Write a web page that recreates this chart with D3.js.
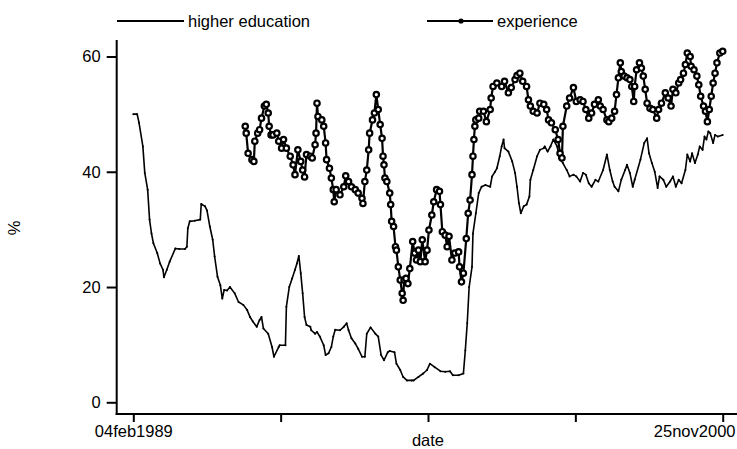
<!DOCTYPE html>
<html>
<head>
<meta charset="utf-8">
<script src="https://cdn.jsdelivr.net/npm/d3@7"></script>
<style>
  body { margin: 0; background: #fff; }
  svg { display: block; }
  text { font-family: "Liberation Sans", Arial, sans-serif; fill: #000; }
</style>
</head>
<body>
<div class="chart"></div>
<script>
'use strict';

// weekly series, week offset from 04feb1989
var startDate = new Date(1989, 1, 4),
  endDate = new Date(2000, 10, 25);

var seriesNames = ['higher education', 'experience'];
var xTickLabels = ['04feb1989', '', '', '', '25nov2000'];
var yTicks = [0, 20, 40, 60];

var heWeek = [0, 4, 6, 10, 12, 15, 17, 19, 21, 25, 28, 31, 32, 35, 38, 44, 48, 54, 56, 57,
  59, 64, 70, 71, 75, 77, 80, 83, 85, 88, 91, 93, 95, 98, 101, 106, 110, 115, 119, 122,
  125, 129, 132, 134, 136, 141, 145, 147, 152, 153, 159, 160, 163, 166, 169, 171, 173, 175, 177, 179,
  181, 185, 186, 190, 192, 195, 199, 201, 204, 207, 209, 211, 216, 220, 223, 225, 228, 232, 235, 239,
  242, 244, 248, 253, 256, 259, 262, 266, 268, 273, 275, 279, 282, 286, 291, 293, 298, 303, 307, 310,
  315, 321, 326, 331, 334, 340, 345, 347, 349, 351, 354, 355, 358, 361, 364, 368, 373, 375, 378, 380,
  383, 385, 387, 388, 392, 396, 399, 401, 403, 405, 408, 411, 414, 415, 418, 422, 425, 429, 430, 433,
  436, 439, 443, 445, 449, 453, 456, 460, 463, 467, 470, 473, 476, 479, 483, 486, 491, 495, 498, 501,
  503, 507, 510, 514, 516, 519, 522, 524, 530, 534, 537, 539, 542, 545, 548, 550, 554, 557, 561, 564,
  567, 570, 573, 577, 579, 582, 584, 587, 590, 592, 595, 597, 599, 601, 603, 606, 608, 611, 616];
var heValue = [50, 50, 48.5, 44.4, 39.8, 36.9, 31.7, 29.3, 27.6, 25.9, 24.1, 23, 21.7, 23, 24.4, 26.7, 26.6, 26.6, 27, 30.2,
  31.4, 31.5, 31.7, 34.4, 34, 33.3, 30.5, 28.2, 25.3, 21.8, 20.3, 18, 19.5, 19.4, 20, 18.9, 17.4, 16.9, 16, 14.8,
  14, 13.1, 14.3, 14.8, 12.8, 11.9, 9.6, 7.9, 9.6, 9.9, 9.9, 16.6, 20, 21.5, 23, 24.1, 25.4, 22.4, 18.9, 14.8,
  13.4, 13.1, 12.5, 11.9, 12.2, 11.4, 9.9, 8.2, 8.5, 9.6, 11.4, 12.6, 12.5, 13.1, 13.7, 12.5, 11.1, 10.2, 9.3, 7.9,
  7.9, 11.9, 13, 11.9, 11.4, 8.2, 7.3, 8.7, 8.9, 8.7, 6.7, 5.6, 4.4, 3.8, 3.8, 3.8, 4.4, 5, 5.6, 6.7,
  6.1, 5.4, 5.3, 5.4, 4.7, 4.7, 5, 9, 13.7, 20, 23.5, 29.3, 32.8, 36.3, 37.4, 37.7, 37.4, 39.2, 40, 40.6,
  42.7, 44.4, 45.6, 44.1, 43.5, 41.8, 39.8, 37.4, 34.6, 32.8, 34, 34.3, 35.7, 38.6, 40.3, 42.7, 43.8, 44.1, 44.4, 43.5,
  44.4, 45.6, 44.4, 42.4, 41.5, 40.3, 39.2, 39.5, 39.2, 38.3, 39.8, 39.5, 38, 37.4, 38.6, 38.3, 40.3, 43, 40.3, 38.3,
  37.4, 36.6, 38.6, 40.3, 41.2, 39.8, 37.4, 38.6, 42.1, 45, 45.8, 43.2, 41.5, 40, 37.2, 39.2, 38.6, 37.4, 38.3, 39.2,
  37.4, 38.6, 38, 40.3, 43, 41.8, 43.2, 41.5, 43, 44.4, 43.8, 46.1, 45.6, 47, 46.7, 45, 46.4, 46.1, 46.4];

var expWeek = [117, 118, 120, 124, 126, 127, 130, 132, 134, 137, 139, 141, 142, 144, 146, 150, 152, 155, 157, 160,
  164, 167, 169, 172, 175, 177, 179, 181, 185, 187, 190, 191, 192, 193, 197, 199, 201, 202, 205, 207,
  209, 210, 212, 216, 220, 222, 225, 228, 232, 235, 239, 240, 242, 244, 246, 247, 250, 252, 254, 256,
  258, 260, 261, 262, 263, 265, 268, 269, 270, 272, 274, 275, 277, 279, 281, 282, 283, 285, 287, 289,
  292, 294, 296, 298, 300, 302, 305, 307, 309, 312, 314, 317, 320, 321, 323, 326, 328, 330, 333, 336,
  340, 341, 343, 345, 348, 350, 352, 354, 355, 356, 357, 358, 361, 362, 366, 369, 373, 374, 376, 380,
  385, 388, 392, 395, 399, 401, 404, 407, 411, 413, 415, 418, 422, 425, 429, 432, 434, 437, 441, 444,
  446, 448, 449, 453, 456, 460, 463, 467, 470, 473, 476, 479, 482, 486, 488, 491, 495, 497, 500, 503,
  505, 507, 509, 510, 513, 516, 519, 521, 523, 524, 526, 529, 531, 533, 535, 537, 540, 543, 547, 549,
  552, 556, 559, 562, 564, 567, 570, 572, 575, 577, 579, 582, 583, 586, 589, 591, 593, 596, 598, 600,
  602, 604, 606, 608, 610, 613, 616];
var expValue = [47.9, 46.7, 43.2, 42.1, 41.8, 45.3, 46.7, 47.3, 49.3, 51.4, 51.7, 50.2, 47.9, 46.4, 46.4, 46.7, 45.3, 44.1, 45.6, 44.1,
  42.7, 41.2, 39.5, 43.8, 41.8, 40.3, 39.1, 43, 42.7, 42.4, 44.7, 46.7, 51.9, 49.6, 49, 47.9, 45, 42.1, 40.6, 38.9,
  36.9, 34.8, 36.9, 36, 37.4, 39.3, 38.3, 37.4, 36.9, 36.3, 35.4, 34.5, 38.3, 40.3, 43.8, 46.7, 49, 50.2, 53.4, 50.8,
  48.2, 45.8, 42.7, 41.2, 38.9, 38.3, 36.3, 34.3, 31.4, 30.5, 27, 26.4, 23.5, 21.2, 18.9, 17.7, 21.2, 21.5, 20.6, 23.2,
  27.9, 25.9, 24.7, 26.4, 24.4, 28.2, 24.4, 26.4, 29.9, 32.5, 34.8, 36.9, 36.6, 34.3, 29.6, 29, 27, 28.8, 24.7, 25.9,
  26.1, 23.5, 20.9, 22.4, 28.4, 32.8, 35.1, 39.5, 42.7, 45.6, 47.9, 49, 49.3, 50.5, 50.5, 48.7, 50.8, 52.8, 54.8, 55.4,
  54.8, 55.7, 53.7, 54.6, 56, 56.7, 57.1, 55.7, 54.8, 52.5, 51.4, 50.5, 50.2, 51.9, 51.7, 50.8, 49, 48.5, 47.3, 45.6,
  43.2, 42.4, 47.9, 51.4, 52.8, 54.6, 52.2, 52.5, 52.2, 50.8, 49.3, 50.2, 51.7, 52.5, 51.4, 50.8, 49, 48.7, 49.3, 50.5,
  53.4, 56.3, 58.9, 57.4, 56.6, 56.3, 56, 54.8, 52.2, 54.8, 57.7, 58.9, 58, 56.6, 54.3, 51.9, 51, 50.8, 49.3, 50.8,
  51.9, 53.7, 52.8, 51.4, 54.3, 53.7, 55.4, 56, 57.1, 58.6, 60.6, 60, 58.3, 57.7, 56.6, 55.1, 53.1, 51.4, 50.5, 48.7,
  50.8, 53.1, 55.4, 57.1, 58.9, 60.6, 60.9];

var width = 737, height = 449;

function toSeries(weeks, values) {
  return weeks.map(function(w, i) {
    return {date: d3.timeDay.offset(startDate, 7 * w), value: values[i]};
  });
}

var he = toSeries(heWeek, heValue);
var exp = toSeries(expWeek, expValue);

var x = d3.scaleTime()
  .domain([startDate, endDate])
  .range([133.3, 722.7]);

var y = d3.scaleLinear()
  .domain([0, 60])
  .range([402.3, 56.5]);

var svg = d3.select('.chart').append('svg')
  .attr('width', width)
  .attr('height', height);

// x ticks evenly spaced between first and last date
var xTickDates = xTickLabels.map(function(d, i) {
  return new Date(+startDate + i * (endDate - startDate) / 4);
});

var xAxis = svg.append('g')
  .attr('transform', 'translate(0,414)')
  .call(d3.axisBottom(x)
    .tickValues(xTickDates)
    .tickSize(8)
    .tickFormat(function(d, i) { return xTickLabels[i]; }));
xAxis.select('.domain').remove();
xAxis.selectAll('line').attr('stroke', '#000').attr('stroke-width', 2);
xAxis.selectAll('text')
  .attr('font-size', 16.5)
  .attr('y', 11)
  .attr('dy', '0.71em');
xAxis.selectAll('.tick:last-of-type text')
  .attr('text-anchor', 'end')
  .attr('x', 735 - x(endDate));

var yAxis = svg.append('g')
  .attr('transform', 'translate(116.7,0)')
  .call(d3.axisLeft(y).tickValues(yTicks).tickSize(10).tickPadding(6));
yAxis.select('.domain').remove();
yAxis.selectAll('line').attr('stroke', '#000').attr('stroke-width', 2);
yAxis.selectAll('text').attr('font-size', 16.5);

// axis lines
svg.append('line')
  .attr('x1', 116.7).attr('x2', 116.7)
  .attr('y1', 40).attr('y2', 415)
  .attr('stroke', '#000').attr('stroke-width', 2);
svg.append('line')
  .attr('x1', 115.7).attr('x2', 737)
  .attr('y1', 414).attr('y2', 414)
  .attr('stroke', '#000').attr('stroke-width', 2);

// axis titles
svg.append('text')
  .attr('transform', 'translate(20,228) rotate(-90)')
  .attr('text-anchor', 'middle')
  .attr('font-size', 16.5)
  .text('%');
svg.append('text')
  .attr('x', 428)
  .attr('y', 446)
  .attr('text-anchor', 'middle')
  .attr('font-size', 16.5)
  .text('date');

var line = d3.line()
  .x(function(d) { return x(d.date); })
  .y(function(d) { return y(d.value); });

svg.append('path')
  .datum(he)
  .attr('fill', 'none')
  .attr('stroke', '#000')
  .attr('stroke-width', 1.6)
  .attr('stroke-linejoin', 'round')
  .attr('d', line);

svg.selectAll('.he-dot')
  .data(he)
  .enter().append('circle')
  .attr('class', 'he-dot')
  .attr('cx', function(d) { return x(d.date); })
  .attr('cy', function(d) { return y(d.value); })
  .attr('r', 1)
  .attr('fill', '#000');

svg.append('path')
  .datum(exp)
  .attr('fill', 'none')
  .attr('stroke', '#000')
  .attr('stroke-width', 2.2)
  .attr('stroke-linejoin', 'round')
  .attr('d', line);

svg.selectAll('.exp-dot')
  .data(exp)
  .enter().append('circle')
  .attr('class', 'exp-dot')
  .attr('cx', function(d) { return x(d.date); })
  .attr('cy', function(d) { return y(d.value); })
  .attr('r', 2.7)
  .attr('fill', '#fff')
  .attr('stroke', '#000')
  .attr('stroke-width', 2.2);

// legend
var legend = svg.append('g');
legend.append('line')
  .attr('x1', 117).attr('x2', 184).attr('y1', 21).attr('y2', 21)
  .attr('stroke', '#000').attr('stroke-width', 2);
legend.append('text')
  .attr('x', 188).attr('y', 26.5)
  .attr('font-size', 16.5)
  .text(seriesNames[0]);
legend.append('line')
  .attr('x1', 427).attr('x2', 493).attr('y1', 21).attr('y2', 21)
  .attr('stroke', '#000').attr('stroke-width', 2);
legend.append('circle')
  .attr('cx', 461).attr('cy', 21).attr('r', 2.6)
  .attr('fill', '#000');
legend.append('text')
  .attr('x', 497).attr('y', 26.5)
  .attr('font-size', 16.5)
  .text(seriesNames[1]);
</script>
</body>
</html>
